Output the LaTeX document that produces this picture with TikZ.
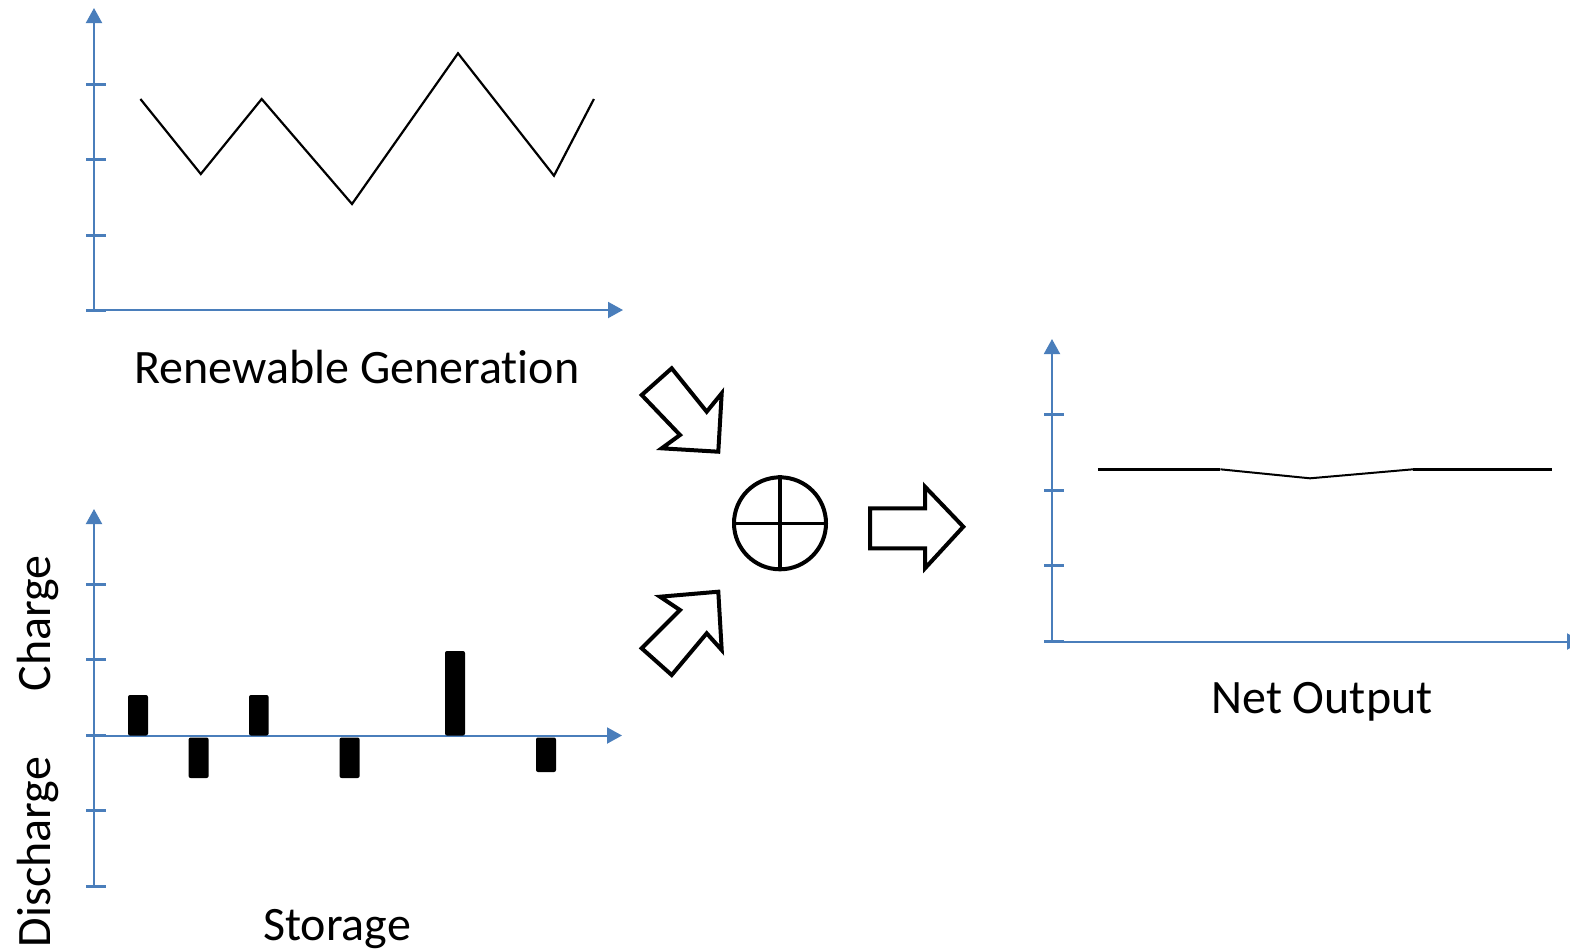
\documentclass[tikz,border=0pt]{standalone}
\usepackage{fontspec}
\setmainfont{Carlito}[Ligatures=NoCommon]
\usetikzlibrary{arrows.meta}
\definecolor{axisblue}{HTML}{4A7EBB}
\begin{document}
\begin{tikzpicture}[x=0.5pt,y=-0.5pt,
  axisline/.style={draw=axisblue,line width=1pt,-{Triangle[length=7.5pt,width=8pt]}},
  tickline/.style={draw=axisblue,line width=1.5pt},
  curve/.style={draw=black,line width=1.1pt,line join=miter},
  barbox/.style={fill=black,rounded corners=1pt},
  blockarrow/.style={draw=black,fill=white,line width=2pt,line join=miter},
  lbl/.style={font=\fontsize{24}{28}\selectfont,anchor=base,inner sep=0pt}]
\useasboundingbox (0,0) rectangle (1570,950);

% ---------- Top chart: Renewable generation ----------
\draw[axisline] (94,311) -- (94,8);
\draw[axisline] (87,310) -- (623,310);
\foreach \yy in {84,159,235,310} \draw[tickline] (86,\yy) -- (106,\yy);
\draw[curve] (140.4,99) -- (200.8,174) -- (261.7,99) -- (352,204) -- (458,53.3) -- (554,175.7) -- (593.9,99);
\node[lbl] (rgen) at (357,383) {Renewable Generation};

% ---------- Bottom chart: Storage ----------
\draw[axisline] (94,886) -- (94,509);
\draw[axisline] (87,735.5) -- (622,735.5);
\foreach \yy in {584,659,735,810,886} \draw[tickline] (86,\yy) -- (106,\yy);
\fill[barbox] (128,695) rectangle (148,735.5);
\fill[barbox] (188.6,737.5) rectangle (208.6,778);
\fill[barbox] (249,695) rectangle (268.6,735.5);
\fill[barbox] (339.6,737.5) rectangle (359.6,778);
\fill[barbox] (445,651) rectangle (465,735.5);
\fill[barbox] (536,737.5) rectangle (556,772);
\node[lbl,rotate=90] (charge) at (50,623.5) {Charge};
\node[lbl,rotate=90] (discharge) at (50,852) {Discharge};
\node[lbl] (storage) at (337,940) {Storage};

% ---------- Combining symbol ----------
\node[circle,draw=black,line width=2pt,minimum size=46pt,inner sep=0pt] (sum) at (780,523.3) {};
\draw[line width=1.6pt] (sum.north) -- (sum.south);
\draw[line width=1.6pt] (sum.west) -- (sum.east);

% ---------- Block arrows ----------
\draw[blockarrow] (671.7,368.3) -- (706.7,411.7) -- (721.7,393.3) -- (718.3,451.7) -- (661.7,448.3) -- (680,435) -- (641.7,395) -- cycle;
\draw[blockarrow] (680,610) -- (660,596.7) -- (718.3,591.7) -- (721.7,650) -- (706.7,633.3) -- (671.7,675) -- (641.7,648.3) -- cycle;
\draw[blockarrow] (870,508.3) -- (925,508.3) -- (925,486.7) -- (963.3,526.7) -- (925,568.3) -- (925,548.3) -- (870,548.3) -- cycle;

% ---------- Right chart: Net output ----------
\draw[axisline] (1052,642) -- (1052,339);
\draw[axisline] (1044,641.5) -- (1582,641.5);
\foreach \yy in {414,490,565,641} \draw[tickline] (1044,\yy) -- (1064,\yy);
\draw[line width=1.5pt] (1097.8,469.3) -- (1220.4,469.3);
\draw[line width=1pt] (1220.4,469.3) -- (1310,478.3) -- (1413,469.3);
\draw[line width=1.5pt] (1413,469.3) -- (1551.7,469.3);
\node[lbl] (net) at (1322,713) {Net Output};
\end{tikzpicture}
\end{document}
